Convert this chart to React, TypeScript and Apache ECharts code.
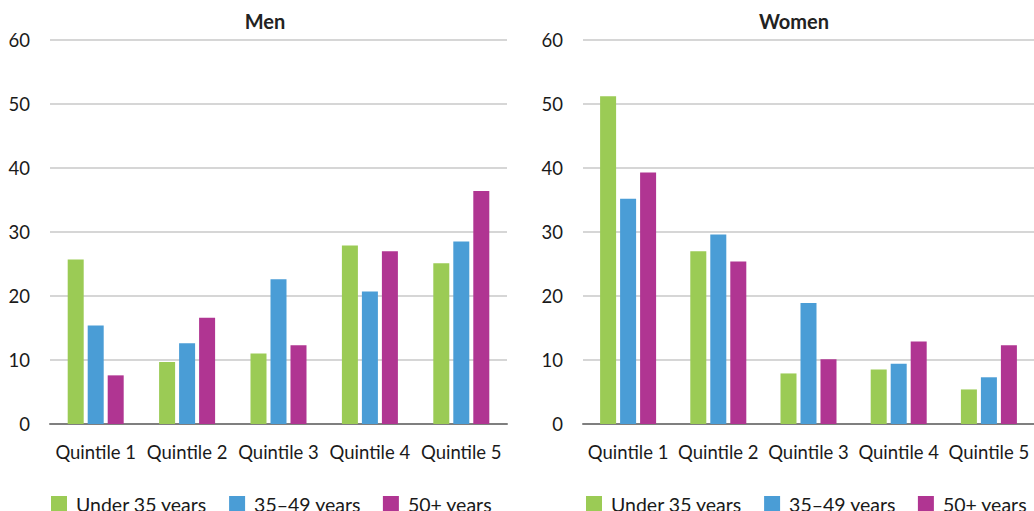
import React, { useEffect, useRef } from "react";
import * as echarts from "echarts";

const categories = ["Quintile 1", "Quintile 2", "Quintile 3", "Quintile 4", "Quintile 5"];
const seriesNames = ["Under 35 years", "35–49 years", "50+ years"];
const colors = ["#9bcb55", "#4a9dd6", "#b03592"];
const menUnder35 = [25.7, 9.7, 11.0, 27.9, 25.1];
const men35to49 = [15.4, 12.6, 22.6, 20.7, 28.5];
const men50plus = [7.6, 16.6, 12.3, 27.0, 36.4];
const womenUnder35 = [51.2, 27.0, 7.9, 8.5, 5.4];
const women35to49 = [35.2, 29.6, 18.9, 9.4, 7.3];
const women50plus = [39.3, 25.4, 10.1, 12.9, 12.3];
const panelTitles = ["Men", "Women"];

const FONT = "Lato";

export default function App() {
  const ref = useRef<HTMLDivElement>(null);
  useEffect(() => {
    if (!ref.current) return;
    const chart = echarts.init(ref.current, undefined, { renderer: "svg" });
    const menData = [menUnder35, men35to49, men50plus];
    const womenData = [womenUnder35, women35to49, women50plus];
    const grids = [
      { left: 50, top: 40, width: 457, height: 384 },
      { left: 583, top: 40, width: 457, height: 384 },
    ];
    const xAxis = grids.map((_, i) => ({
      type: "category",
      gridIndex: i,
      data: categories,
      axisTick: { show: false },
      axisLine: { lineStyle: { color: "#7f7f7f", width: 2 } },
      axisLabel: { color: "#1a1a1a", fontSize: 18.5, fontFamily: FONT, margin: 18, interval: 0 },
    }));
    const yAxis = grids.map((_, i) => ({
      type: "value",
      gridIndex: i,
      min: 0,
      max: 60,
      interval: 10,
      axisLine: { show: false },
      axisTick: { show: false },
      splitLine: { lineStyle: { color: "#c8c8c8", width: 1.5 } },
      axisLabel: { color: "#1a1a1a", fontSize: 18.5, fontFamily: FONT, margin: 20 },
    }));
    const series: any[] = [];
    [menData, womenData].forEach((d, gi) => {
      d.forEach((vals, si) => {
        series.push({
          type: "bar",
          name: seriesNames[si],
          xAxisIndex: gi,
          yAxisIndex: gi,
          data: vals,
          barWidth: 16,
          barGap: "25%",
          itemStyle: { color: colors[si] },
          emphasis: { disabled: true },
        });
      });
    });
    const legendBase = {
      data: seriesNames,
      top: 494,
      padding: 0,
      itemWidth: 16,
      itemHeight: 16,
      itemGap: 22,
      icon: "rect",
      selectedMode: false,
      textStyle: { color: "#1a1a1a", fontSize: 19.5, fontFamily: FONT, padding: [0, 0, 0, 4] },
    };
    chart.setOption({
      animation: false,
      title: panelTitles.map((t, i) => ({
        text: t,
        left: i === 0 ? 265 : 794,
        top: 11,
        textAlign: "center",
        padding: 0,
        textStyle: { fontSize: 20, fontWeight: "bold", color: "#222", fontFamily: FONT },
      })),
      legend: [
        { ...legendBase, left: 51 },
        { ...legendBase, left: 586 },
      ],
      grid: grids,
      xAxis,
      yAxis,
      series,
    });
    return () => chart.dispose();
  }, []);
  return (
    <div
      ref={ref}
      style={{ position: "fixed", left: 0, top: 0, width: 1034, height: 511, background: "#fff" }}
    />
  );
}
